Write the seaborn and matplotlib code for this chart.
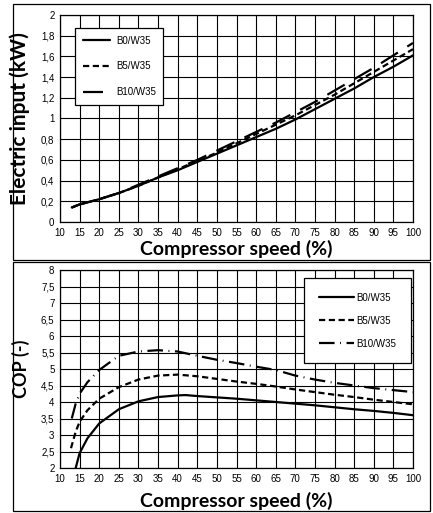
import numpy as np
import pandas as pd
import matplotlib
matplotlib.use("Agg")
import matplotlib.pyplot as plt
from matplotlib.patches import Rectangle
import seaborn as sns

# compressor speed (%) sample points
speed_power = [13, 15, 20, 25, 30, 35, 40, 45, 50, 55, 60, 65, 70, 75, 80, 85, 90, 95, 100]
power_b0 = [0.14, 0.17, 0.22, 0.28, 0.35, 0.43, 0.50, 0.58, 0.66, 0.74, 0.82, 0.90, 0.99, 1.09, 1.19, 1.29, 1.40, 1.50, 1.61]
power_b5 = [0.14, 0.17, 0.22, 0.28, 0.35, 0.43, 0.51, 0.59, 0.67, 0.76, 0.85, 0.94, 1.03, 1.13, 1.23, 1.34, 1.45, 1.56, 1.67]
power_b10 = [0.14, 0.17, 0.22, 0.28, 0.36, 0.44, 0.52, 0.60, 0.69, 0.78, 0.87, 0.96, 1.06, 1.16, 1.27, 1.38, 1.49, 1.61, 1.73]

speed_cop_b0 = [14, 15, 17, 20, 25, 30, 35, 40, 42, 45, 50, 55, 60, 65, 70, 75, 80, 85, 90, 95, 100]
cop_b0 = [2.0, 2.45, 2.9, 3.35, 3.78, 4.02, 4.15, 4.2, 4.21, 4.18, 4.14, 4.1, 4.05, 4.0, 3.95, 3.9, 3.84, 3.78, 3.73, 3.67, 3.6]
speed_cop_b5 = [12.8, 14, 15, 17, 20, 25, 30, 35, 40, 45, 50, 55, 60, 65, 70, 75, 80, 85, 90, 95, 100]
cop_b5 = [2.6, 3.1, 3.4, 3.75, 4.1, 4.45, 4.68, 4.8, 4.83, 4.78, 4.7, 4.62, 4.55, 4.47, 4.38, 4.3, 4.22, 4.15, 4.07, 4.0, 3.93]
speed_cop_b10 = [13, 14, 15, 17, 20, 25, 30, 35, 40, 45, 50, 55, 60, 65, 70, 75, 80, 85, 90, 95, 100]
cop_b10 = [3.5, 3.95, 4.25, 4.6, 4.97, 5.4, 5.53, 5.57, 5.53, 5.4, 5.28, 5.18, 5.07, 4.97, 4.8, 4.68, 4.58, 4.5, 4.42, 4.36, 4.3]

conditions = ["B0/W35", "B5/W35", "B10/W35"]
x_ticks = list(range(10, 101, 5))

power_df = pd.concat([
    pd.DataFrame({"speed": speed_power, "value": v, "cond": c})
    for v, c in zip([power_b0, power_b5, power_b10], conditions)
])
cop_df = pd.concat([
    pd.DataFrame({"speed": s, "value": v, "cond": c})
    for s, v, c in zip([speed_cop_b0, speed_cop_b5, speed_cop_b10],
                       [cop_b0, cop_b5, cop_b10], conditions)
])

sns.set_style("white")
plt.rcParams["font.family"] = ["Liberation Sans", "DejaVu Sans"]
plt.rcParams["text.color"] = "black"
plt.rcParams["axes.labelcolor"] = "black"
plt.rcParams["xtick.color"] = "black"
plt.rcParams["ytick.color"] = "black"

W, H = 433, 513
fig = plt.figure(figsize=(W / 100, H / 100), dpi=100)


def frac_axes(l, t, r, b):
    return fig.add_axes([l / W, 1 - b / H, (r - l) / W, (b - t) / H])


ax1 = frac_axes(60, 15, 413, 222)
ax2 = frac_axes(60, 270, 413, 468)

# outer boxes around each panel
for (t, b) in [(4, 260), (262, 511)]:
    fig.patches.append(Rectangle((13 / W, 1 - b / H), (430 - 13) / W, (b - t) / H,
                                 transform=fig.transFigure, fill=False,
                                 edgecolor="black", linewidth=0.9))

label_family = ["Lato", "DejaVu Sans"]


def style_axis(ax, yticks, ylabel, ylabels, ysize, xlab_y):
    ax.set_xlim(10, 100)
    ax.set_ylim(yticks[0], yticks[-1])
    ax.set_xticks(x_ticks)
    ax.set_yticks(yticks)
    ax.set_yticklabels(ylabels)
    ax.grid(True, color="black", linewidth=0.8)
    ax.set_axisbelow(True)
    ax.tick_params(length=0, labelsize=7, pad=4, colors="black")
    for s in ax.spines.values():
        s.set_color("black")
        s.set_linewidth(0.9)
    ax.set_xlabel("Compressor speed (%)", family=label_family,
                  fontweight="bold", fontsize=14, color="black")
    ax.set_ylabel(ylabel, family=label_family, fontweight="bold",
                  fontsize=ysize, color="black")
    ax.xaxis.set_label_coords(0.5, xlab_y)
    ax.yaxis.set_label_coords(-0.086, 0.5)


legend_kw = dict(fontsize=7, frameon=True, fancybox=False, edgecolor="black",
                 framealpha=1, borderaxespad=0)

dash_top = {"B0/W35": "", "B5/W35": (2.8, 1.6), "B10/W35": (9, 5)}
sns.lineplot(data=power_df, x="speed", y="value", style="cond", dashes=dash_top,
             color="black", linewidth=1.6, ax=ax1, sort=False)
y1 = [round(0.2 * i, 1) for i in range(11)]
style_axis(ax1, y1, "Electric input (kW)",
           [("%g" % v).replace(".", ",") for v in y1], 15, -0.085)
h, l = ax1.get_legend_handles_labels()
ax1.legend(h, l, loc="upper left", bbox_to_anchor=(0.0425, 0.937),
           handlelength=2.8, handletextpad=0.6, labelspacing=1.6, borderpad=0.8,
           **legend_kw)
ax1.get_legend().get_frame().set_linewidth(0.9)

dash_bot = {"B0/W35": "", "B5/W35": (2.8, 1.6), "B10/W35": (7, 2.5, 0.4, 2.5)}
sns.lineplot(data=cop_df, x="speed", y="value", style="cond", dashes=dash_bot,
             color="black", linewidth=1.6, ax=ax2, sort=False)
y2 = [2 + 0.5 * i for i in range(13)]
style_axis(ax2, y2, "COP (-)", [("%g" % v).replace(".", ",") for v in y2],
           13, -0.12)
h, l = ax2.get_legend_handles_labels()
ax2.legend(h, l, loc="upper right", bbox_to_anchor=(0.994, 0.96),
           handlelength=3.6, handletextpad=0.3, labelspacing=1.35, borderpad=1.5,
           **legend_kw)
ax2.get_legend().get_frame().set_linewidth(0.9)

fig.savefig("out.png", dpi=100)
